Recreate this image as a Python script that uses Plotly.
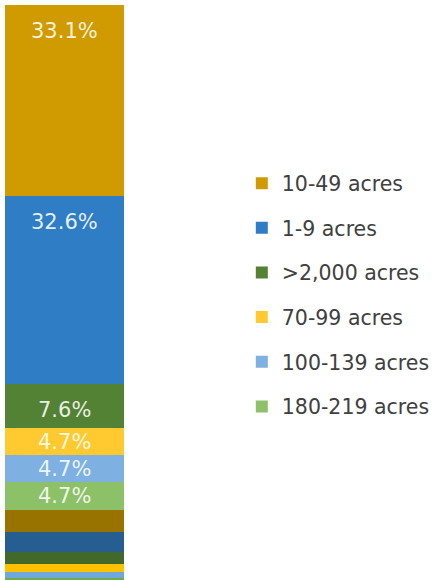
import plotly.graph_objects as go

# Data (top-to-bottom order of the stacked bar)
categories = ["10-49 acres", "1-9 acres", ">2,000 acres", "70-99 acres",
              "100-139 acres", "180-219 acres", "50-69 acres", "140-179 acres",
              "220-259 acres", "260-499 acres", "500-999 acres", "1,000-1,999 acres"]
shares = [33.1, 32.6, 7.6, 4.7, 4.7, 4.7, 3.8, 3.6, 2.1, 1.4, 1.0, 0.7]
labels = ["33.1%", "32.6%", "7.6%", "4.7%", "4.7%", "4.7%", "", "", "", "", "", ""]
in_legend = [True, True, True, True, True, True, False, False, False, False, False, False]

# Styles
colors = ["#CF9B00", "#2F7DC5", "#548235", "#FFC930", "#7EB0E1", "#8CC168",
          "#997300", "#265E91", "#43682B", "#FFC000", "#6FA8DC", "#70AD47"]
FONT = "DejaVu Sans"

fig = go.Figure()
n = len(categories)
for i in reversed(range(n)):
    fig.add_trace(go.Bar(
        x=[0], y=[shares[i]], width=[1], name=categories[i],
        marker=dict(color=colors[i], line=dict(width=0)),
        showlegend=in_legend[i], legendgroup=categories[i], legendrank=i + 1,
        hoverinfo="name+y",
    ))

# labels: big segments near top, small ones centred
total = sum(shares)
top = total
annotations = []
for i in range(n):
    bottom = top - shares[i]
    if labels[i]:
        if shares[i] >= 7:
            y, shift = top, -26
        else:
            y, shift = (top + bottom) / 2, 0
        annotations.append(dict(
            x=0, y=y, xref="x", yref="y", text=labels[i], showarrow=False,
            yshift=shift, yanchor="middle",
            font=dict(family=FONT, size=21, color="rgba(255,255,255,0.88)"),
        ))
    top = bottom

fig.update_layout(
    width=435, height=580,
    margin=dict(l=5, r=309, t=5, b=0),
    barmode="stack", bargap=0,
    plot_bgcolor="white", paper_bgcolor="white",
    xaxis=dict(visible=False, range=[-0.5, 0.5], fixedrange=True),
    yaxis=dict(visible=False, range=[0.4, 100], fixedrange=True),
    showlegend=True,
    legend=dict(
        x=1.99, xanchor="left", y=0.496, yanchor="middle",
        traceorder="grouped", tracegroupgap=15,
        font=dict(family=FONT, size=20.5, color="#404040"),
        bgcolor="rgba(0,0,0,0)",
    ),
    annotations=annotations,
)

fig.write_html("out.html", config={"displayModeBar": False},
               post_script="document.body.style.margin='0';document.body.style.overflow='hidden';")
